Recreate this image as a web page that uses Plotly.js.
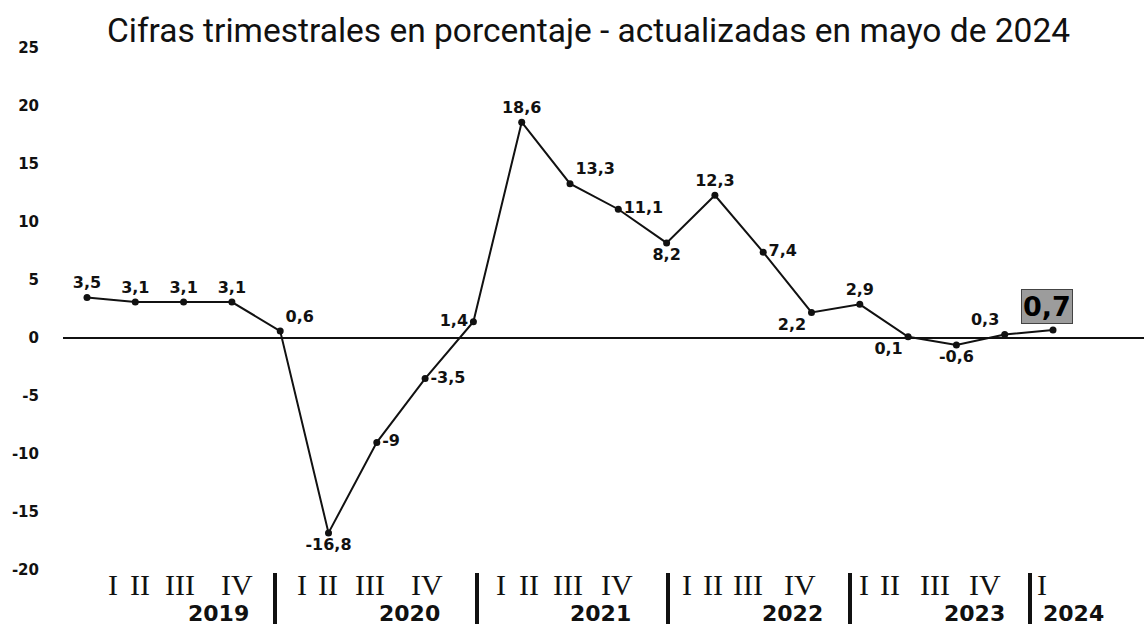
<!DOCTYPE html>
<html>
<head>
<meta charset="utf-8">
<script src="https://cdn.plot.ly/plotly-3.0.1.min.js"></script>
<style>
  html, body { margin: 0; padding: 0; background: #fff; }
  #chart { width: 1144px; height: 627px; }
</style>
</head>
<body>
<div id="chart"></div>
<script>
// ---- Data ----
const years = ['2019', '2020', '2021', '2022', '2023', '2024'];
const quarters = ['I', 'II', 'III', 'IV'];
const quartersPerYear = [4, 4, 4, 4, 4, 1];
const values = [3.5, 3.1, 3.1, 3.1, 0.6, -16.8, -9, -3.5, 1.4, 18.6, 13.3, 11.1, 8.2, 12.3, 7.4, 2.2, 2.9, 0.1, -0.6, 0.3, 0.7];
const yTicks = [-20, -15, -10, -5, 0, 5, 10, 15, 20, 25];
const titleText = 'Cifras trimestrales en porcentaje - actualizadas en mayo de 2024';

// ---- Layout helpers (positions / styles) ----
const W = 1144, H = 627;
const plotLeft = 63, plotRight = 1144, plotTop = 45, plotBottom = 580;
const pxPaperX = px => (px - plotLeft) / (plotRight - plotLeft);
const pxPaperY = py => (plotBottom - py) / (plotBottom - plotTop);

const fmt = v => String(v).replace('.', ',');
const xIdx = values.map((_, i) => i);

const textPos = ['top center', 'top center', 'top center', 'top center', 'top right',
  'bottom center', 'middle right', 'middle right', 'middle left', 'top center',
  'top right', 'middle right', 'bottom center', 'top center', 'middle right',
  'bottom left', 'top center', 'bottom left', 'bottom center', 'top left', 'top center'];
const labels = values.map((v, i) => i === values.length - 1 ? '' : fmt(v));

const trace = {
  x: xIdx,
  y: values,
  type: 'scatter',
  mode: 'lines+markers+text',
  line: { color: '#111', width: 2 },
  marker: { color: '#111', size: 7 },
  text: labels,
  textposition: textPos,
  textfont: { family: 'DejaVu Sans', size: 16, weight: 'bold', color: '#111' },
  cliponaxis: false,
  hoverinfo: 'skip'
};

// Bottom labels layout (pixel positions of each year group)
const quarterPx = [
  [113, 140, 180, 237],
  [302, 328, 370, 427],
  [501, 529, 568, 617],
  [687, 713, 748, 800],
  [864, 890, 935, 985],
  [1042]
];
const yearCenterPx = [218, 409, 600, 792, 974, 1073];
const separatorPx = [275, 477, 668, 850, 1030];

const annotations = [];
years.forEach((yr, g) => {
  for (let q = 0; q < quartersPerYear[g]; q++) {
    annotations.push({
      xref: 'paper', yref: 'paper',
      x: pxPaperX(quarterPx[g][q]), y: pxPaperY(584),
      xanchor: 'center', yanchor: 'middle',
      text: quarters[q], showarrow: false,
      font: { family: 'Liberation Serif', size: 30, color: '#111' }
    });
  }
  annotations.push({
    xref: 'paper', yref: 'paper',
    x: pxPaperX(yearCenterPx[g]), y: pxPaperY(613),
    xanchor: 'center', yanchor: 'middle',
    text: yr, showarrow: false,
    font: { family: 'DejaVu Sans', size: 22, weight: 'bold', color: '#111' }
  });
});

// Highlighted last value
const lastI = values.length - 1;
annotations.push({
  xref: 'x', yref: 'y', x: xIdx[lastI], y: values[lastI],
  xanchor: 'center', yanchor: 'bottom', yshift: 6, xshift: -6,
  text: fmt(values[lastI]), showarrow: false,
  font: { family: 'DejaVu Sans', size: 27, weight: 'bold', color: '#000' },
  bgcolor: '#9c9c9c', bordercolor: '#444', borderwidth: 1, borderpad: 1
});

const shapes = separatorPx.map(px => ({
  type: 'line', xref: 'paper', yref: 'paper',
  x0: pxPaperX(px), x1: pxPaperX(px), y0: pxPaperY(573), y1: pxPaperY(624),
  line: { color: '#111', width: 4 }
}));

const pxPerUnit = 11.6, zeroPx = 338;
const yMax = (zeroPx - plotTop) / pxPerUnit;
const yMin = -(plotBottom - zeroPx) / pxPerUnit;
const xPerPx = 1 / 48.3, firstPx = 87;
const xMin = -(firstPx - plotLeft) * xPerPx;
const xMax = (plotRight - firstPx) * xPerPx;

const layout = {
  width: W, height: H,
  margin: { l: plotLeft, r: W - plotRight, t: plotTop, b: H - plotBottom },
  paper_bgcolor: '#fff', plot_bgcolor: '#fff',
  showlegend: false,
  title: {
    text: titleText, xref: 'container', yref: 'container',
    x: 107 / W, xanchor: 'left', y: 1 - 30 / H, yanchor: 'middle',
    font: { family: 'Roboto', size: 33.5, color: '#111' }
  },
  xaxis: {
    range: [xMin, xMax], showgrid: false, zeroline: false,
    showticklabels: false, ticks: '', showline: false, fixedrange: true
  },
  yaxis: {
    range: [yMin, yMax], showgrid: false, zeroline: true,
    zerolinecolor: '#111', zerolinewidth: 1.5,
    tickvals: yTicks, ticktext: yTicks.map(String), ticks: '',
    ticklabelstandoff: 23,
    tickfont: { family: 'DejaVu Sans', size: 15, weight: 'bold', color: '#111' },
    showline: false, fixedrange: true
  },
  annotations: annotations,
  shapes: shapes
};

Plotly.newPlot('chart', [trace], layout, { displayModeBar: false, staticPlot: true });
</script>
</body>
</html>
